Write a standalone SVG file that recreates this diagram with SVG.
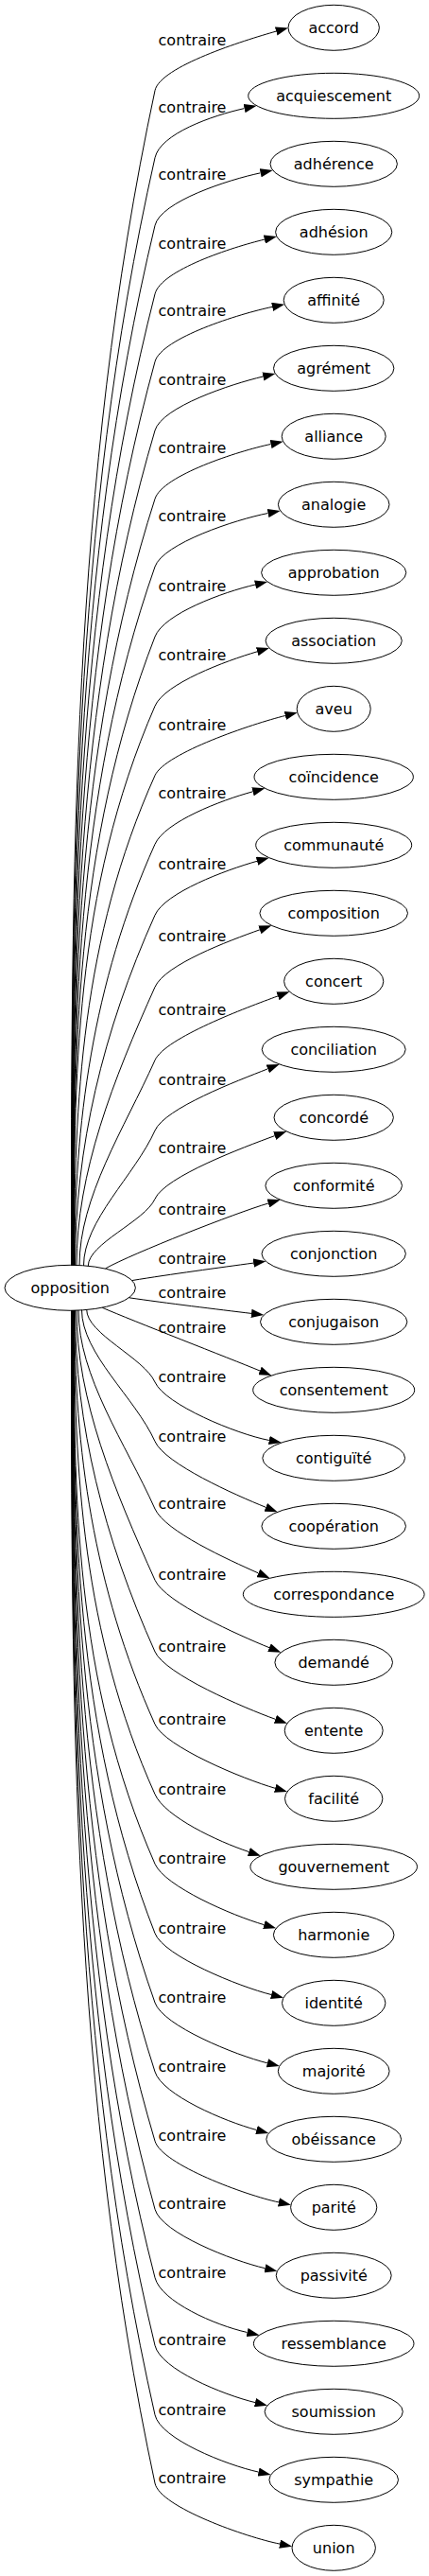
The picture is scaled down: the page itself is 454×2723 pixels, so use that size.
<svg xmlns="http://www.w3.org/2000/svg" width="454" height="2723" viewBox="0 0 454 2723">
<style>
.node ellipse{fill:none;stroke:#000;stroke-width:1}
text{font-family:"DejaVu Sans",sans-serif;font-size:16px;fill:#000;text-anchor:middle}
.edge path{fill:none;stroke:#000;stroke-width:1;marker-end:url(#arr)}
</style>
<defs>
<marker id="arr" markerUnits="userSpaceOnUse" viewBox="0 0 13.3 9.34" markerWidth="13.3" markerHeight="9.34" refX="0" refY="4.67" orient="auto">
<path d="M0,0 L13.3,4.67 L0,9.34 Z" fill="#000"/>
</marker>
</defs>
<rect width="454" height="2723" fill="#fff"/>
<g id="connectors">
<g class="edge"><path d="M75.5,1337.6 C75.5,923.6 75.5,509.7 164,95.7 C169.4,70.3 258.5,42.6 292.2,33.1"/><text x="203.5" y="47.7">contraire</text></g>
<g class="edge"><path d="M75.8,1337.6 C75.8,947.3 75.8,557 164,166.7 C169.7,141.3 224.4,122.2 258.6,114.6"/><text x="203.5" y="118.7">contraire</text></g>
<g class="edge"><path d="M76.1,1337.6 C76.1,971.2 76.1,604.7 164,238.3 C170.1,213 241.5,190 275.7,182.8"/><text x="203.5" y="190.3">contraire</text></g>
<g class="edge"><path d="M76.4,1337.6 C76.4,995.3 76.4,653 164,310.7 C170.4,285.5 245.9,261.3 279.9,253.1"/><text x="203.5" y="262.7">contraire</text></g>
<g class="edge"><path d="M76.7,1337.6 C76.7,1019.2 76.7,700.7 164,382.3 C170.9,357.2 253.8,331.5 288.1,324.4"/><text x="203.5" y="334.3">contraire</text></g>
<g class="edge"><path d="M77,1337.6 C77,1043.4 77,749.2 164,455 C171.4,430.1 244.3,406 278.4,398"/><text x="203.5" y="407">contraire</text></g>
<g class="edge"><path d="M77.3,1337.6 C77.3,1067.5 77.3,797.4 164,527.3 C171.9,502.5 252.4,476.7 286.6,469.5"/><text x="203.5" y="479.3">contraire</text></g>
<g class="edge"><path d="M77.6,1337.6 C77.6,1091.4 77.6,845.2 164,599 C172.6,574.5 249.3,549.2 283.6,542.5"/><text x="203.5" y="551">contraire</text></g>
<g class="edge"><path d="M77.9,1337.6 C77.9,1116.1 77.9,894.5 164,673 C173.4,648.8 236,625.9 270.1,618"/><text x="203.5" y="625">contraire</text></g>
<g class="edge"><path d="M78.2,1337.6 C78.2,1140.5 78.2,943.4 164,746.3 C174.4,722.5 238.6,698.7 272.2,688.8"/><text x="203.5" y="698.3">contraire</text></g>
<g class="edge"><path d="M78.5,1337.6 C78.5,1165 86.3,992.3 164,819.7 C174.7,796 267.8,764.9 301.8,756.5"/><text x="203.5" y="771.7">contraire</text></g>
<g class="edge"><path d="M78.8,1337.6 C78.8,1189.2 97.2,1040.7 164,892.3 C174.7,868.6 233.7,846 267.5,836.8"/><text x="203.5" y="844.3">contraire</text></g>
<g class="edge"><path d="M79.5,1337.6 C79.5,1214.2 108.5,1090.7 164,967.3 C174.7,943.6 238.3,919.8 272,910.3"/><text x="203.5" y="919.3">contraire</text></g>
<g class="edge"><path d="M81,1337.6 C81,1239.5 119.9,1141.4 164,1043.3 C174.7,1019.6 241.9,994.6 274.9,982.8"/><text x="203.5" y="995.3">contraire</text></g>
<g class="edge"><path d="M84,1337.7 C84,1265.4 131.5,1193 164,1120.7 C174.7,1097 261.1,1065 294,1052.9"/><text x="203.5" y="1072.7">contraire</text></g>
<g class="edge"><path d="M88.5,1337.9 C88.5,1290.3 142.6,1242.6 164,1195 C174.7,1171.3 250.8,1142.7 283.3,1129.9"/><text x="203.5" y="1147">contraire</text></g>
<g class="edge"><path d="M93.3,1338.2 C93.3,1314.6 153.4,1290.9 164,1267.3 C174.7,1243.6 257.9,1212.7 290.7,1200.6"/><text x="203.5" y="1219.3">contraire</text></g>
<g class="edge"><path d="M111.7,1340.8 C140,1325 250.3,1281.8 283.9,1272"/><text x="203.5" y="1283.7">contraire</text></g>
<g class="edge"><path d="M140,1353.5 C180,1347 233.5,1339.8 268.2,1335.1"/><text x="203.5" y="1336">contraire</text></g>
<g class="edge"><path d="M136.7,1371.8 C175,1377.4 231.2,1384.2 266,1388.4"/><text x="203.5" y="1371.7">contraire</text></g>
<g class="edge"><path d="M108.3,1382.3 C140,1396 242.6,1435.7 275,1449"/><text x="203.5" y="1409.3">contraire</text></g>
<g class="edge"><path d="M91.7,1384.3 C91.7,1409.9 152.5,1435.4 164,1461 C174.7,1484.7 250.4,1516 284.8,1522.5"/><text x="203.5" y="1461">contraire</text></g>
<g class="edge"><path d="M86.5,1384.6 C86.5,1431 143.1,1477.3 164,1523.7 C174.7,1547.4 248.8,1580.2 281.3,1593.3"/><text x="203.5" y="1523.7">contraire</text></g>
<g class="edge"><path d="M83,1385 C83,1455 132.5,1525 164,1595 C174.7,1618.7 241.4,1648.6 273.4,1662.9"/><text x="203.5" y="1595">contraire</text></g>
<g class="edge"><path d="M81,1385 C81,1480.1 121.2,1575.2 164,1670.3 C174.7,1694 252.6,1728.5 285,1741.7"/><text x="203.5" y="1670.3">contraire</text></g>
<g class="edge"><path d="M79.5,1385 C79.5,1505.3 109.9,1625.7 164,1746 C174.7,1769.7 258.4,1805.5 291.4,1817.3"/><text x="203.5" y="1746">contraire</text></g>
<g class="edge"><path d="M78.8,1385 C78.8,1530.9 98.3,1676.8 164,1822.7 C174.7,1846.4 257.6,1880.7 291.2,1890.3"/><text x="203.5" y="1822.7">contraire</text></g>
<g class="edge"><path d="M78.5,1385 C78.5,1555.6 87.2,1726.1 164,1896.7 C174.7,1920.4 230.1,1946.4 263.3,1957.5"/><text x="203.5" y="1896.7">contraire</text></g>
<g class="edge"><path d="M78.2,1385 C78.2,1580.1 78.2,1775.2 164,1970.3 C174.5,1994.1 245.8,2024.9 279.4,2034.6"/><text x="203.5" y="1970.3">contraire</text></g>
<g class="edge"><path d="M77.9,1385 C77.9,1604.6 77.9,1824.1 164,2043.7 C173.5,2067.9 253.2,2100 287.1,2108.5"/><text x="203.5" y="2043.7">contraire</text></g>
<g class="edge"><path d="M77.6,1385 C77.6,1629 77.6,1873 164,2117 C172.7,2141.5 249,2172.3 282.9,2180.8"/><text x="203.5" y="2117">contraire</text></g>
<g class="edge"><path d="M77.3,1385 C77.3,1653.3 77.3,1921.7 164,2190 C172,2214.7 237.7,2242.4 271.5,2251.5"/><text x="203.5" y="2190">contraire</text></g>
<g class="edge"><path d="M77,1385 C77,1677.8 77,1970.5 164,2263.3 C171.4,2288.2 260.7,2320.7 294.9,2327.9"/><text x="203.5" y="2263.3">contraire</text></g>
<g class="edge"><path d="M76.7,1385 C76.7,1701.8 76.7,2018.5 164,2335.3 C170.9,2360.4 246.3,2389.8 280.4,2397.7"/><text x="203.5" y="2335.3">contraire</text></g>
<g class="edge"><path d="M76.4,1385 C76.4,1725.9 76.4,2066.8 164,2407.7 C170.5,2432.9 227.4,2457.9 261.6,2465.5"/><text x="203.5" y="2407.7">contraire</text></g>
<g class="edge"><path d="M76.1,1385 C76.1,1749.8 76.1,2114.5 164,2479.3 C170.1,2504.6 236,2531.4 270,2539.6"/><text x="203.5" y="2479.3">contraire</text></g>
<g class="edge"><path d="M75.8,1385 C75.8,1774.2 75.8,2163.5 164,2552.7 C169.7,2578.1 239.4,2605.6 273.6,2613.1"/><text x="203.5" y="2552.7">contraire</text></g>
<g class="edge"><path d="M75.5,1385 C75.5,1798.3 75.5,2211.7 164,2625 C169.4,2650.4 261.7,2682.3 296.1,2689.1"/><text x="203.5" y="2625">contraire</text></g>
</g>
<g id="node-opposition" class="node"><ellipse cx="74.2" cy="1361.3" rx="69.2" ry="24"/><text x="74.2" y="1366.9">opposition</text></g>
<g id="node-accord" class="node"><ellipse cx="353.2" cy="29.3" rx="48.2" ry="24"/><text x="353.2" y="34.9">accord</text></g>
<g id="node-acquiescement" class="node"><ellipse cx="353.2" cy="101.3" rx="90.5" ry="24"/><text x="353.2" y="106.9">acquiescement</text></g>
<g id="node-adherence" class="node"><ellipse cx="353.2" cy="173.3" rx="67.2" ry="24"/><text x="353.2" y="178.9">adhérence</text></g>
<g id="node-adhesion" class="node"><ellipse cx="353.2" cy="245.3" rx="61.6" ry="24"/><text x="353.2" y="250.9">adhésion</text></g>
<g id="node-affinite" class="node"><ellipse cx="353.2" cy="317.3" rx="53" ry="24"/><text x="353.2" y="322.9">affinité</text></g>
<g id="node-agrement" class="node"><ellipse cx="353.2" cy="389.3" rx="63.7" ry="24"/><text x="353.2" y="394.9">agrément</text></g>
<g id="node-alliance" class="node"><ellipse cx="353.2" cy="461.3" rx="55" ry="24"/><text x="353.2" y="466.9">alliance</text></g>
<g id="node-analogie" class="node"><ellipse cx="353.2" cy="533.3" rx="58.8" ry="24"/><text x="353.2" y="538.9">analogie</text></g>
<g id="node-approbation" class="node"><ellipse cx="353.2" cy="605.3" rx="76.6" ry="24"/><text x="353.2" y="610.9">approbation</text></g>
<g id="node-association" class="node"><ellipse cx="353.2" cy="677.3" rx="72.1" ry="24"/><text x="353.2" y="682.9">association</text></g>
<g id="node-aveu" class="node"><ellipse cx="353.2" cy="749.3" rx="39" ry="24"/><text x="353.2" y="754.9">aveu</text></g>
<g id="node-coincidence" class="node"><ellipse cx="353.2" cy="821.3" rx="84.2" ry="24"/><text x="353.2" y="826.9">coïncidence</text></g>
<g id="node-communaute" class="node"><ellipse cx="353.2" cy="893.3" rx="82.5" ry="24"/><text x="353.2" y="898.9">communauté</text></g>
<g id="node-composition" class="node"><ellipse cx="353.2" cy="965.3" rx="78.3" ry="24"/><text x="353.2" y="970.9">composition</text></g>
<g id="node-concert" class="node"><ellipse cx="353.2" cy="1037.3" rx="52.6" ry="24"/><text x="353.2" y="1042.9">concert</text></g>
<g id="node-conciliation" class="node"><ellipse cx="353.2" cy="1109.3" rx="76" ry="24"/><text x="353.2" y="1114.9">conciliation</text></g>
<g id="node-concorde" class="node"><ellipse cx="353.2" cy="1181.3" rx="63.2" ry="24"/><text x="353.2" y="1186.9">concordé</text></g>
<g id="node-conformite" class="node"><ellipse cx="353.2" cy="1253.3" rx="72.3" ry="24"/><text x="353.2" y="1258.9">conformité</text></g>
<g id="node-conjonction" class="node"><ellipse cx="353.2" cy="1325.3" rx="76.2" ry="24"/><text x="353.2" y="1330.9">conjonction</text></g>
<g id="node-conjugaison" class="node"><ellipse cx="353.2" cy="1397.3" rx="77.7" ry="24"/><text x="353.2" y="1402.9">conjugaison</text></g>
<g id="node-consentement" class="node"><ellipse cx="353.2" cy="1469.3" rx="85.5" ry="24"/><text x="353.2" y="1474.9">consentement</text></g>
<g id="node-contiguite" class="node"><ellipse cx="353.2" cy="1541.3" rx="75.4" ry="24"/><text x="353.2" y="1546.9">contiguïté</text></g>
<g id="node-cooperation" class="node"><ellipse cx="353.2" cy="1613.3" rx="76.3" ry="24"/><text x="353.2" y="1618.9">coopération</text></g>
<g id="node-correspondance" class="node"><ellipse cx="353.2" cy="1685.3" rx="95.9" ry="24"/><text x="353.2" y="1690.9">correspondance</text></g>
<g id="node-demande" class="node"><ellipse cx="353.2" cy="1757.3" rx="62.3" ry="24"/><text x="353.2" y="1762.9">demandé</text></g>
<g id="node-entente" class="node"><ellipse cx="353.2" cy="1829.3" rx="52" ry="24"/><text x="353.2" y="1834.9">entente</text></g>
<g id="node-facilite" class="node"><ellipse cx="353.2" cy="1901.3" rx="51.7" ry="24"/><text x="353.2" y="1906.9">facilité</text></g>
<g id="node-gouvernement" class="node"><ellipse cx="353.2" cy="1973.3" rx="88.3" ry="24"/><text x="353.2" y="1978.9">gouvernement</text></g>
<g id="node-harmonie" class="node"><ellipse cx="353.2" cy="2045.3" rx="63.8" ry="24"/><text x="353.2" y="2050.9">harmonie</text></g>
<g id="node-identite" class="node"><ellipse cx="353.2" cy="2117.3" rx="54.7" ry="24"/><text x="353.2" y="2122.9">identité</text></g>
<g id="node-majorite" class="node"><ellipse cx="353.2" cy="2189.3" rx="58.9" ry="24"/><text x="353.2" y="2194.9">majorité</text></g>
<g id="node-obeissance" class="node"><ellipse cx="353.2" cy="2261.3" rx="71.4" ry="24"/><text x="353.2" y="2266.9">obéissance</text></g>
<g id="node-parite" class="node"><ellipse cx="353.2" cy="2333.3" rx="45.6" ry="24"/><text x="353.2" y="2338.9">parité</text></g>
<g id="node-passivite" class="node"><ellipse cx="353.2" cy="2405.3" rx="61" ry="24"/><text x="353.2" y="2410.9">passivité</text></g>
<g id="node-ressemblance" class="node"><ellipse cx="353.2" cy="2477.3" rx="84.8" ry="24"/><text x="353.2" y="2482.9">ressemblance</text></g>
<g id="node-soumission" class="node"><ellipse cx="353.2" cy="2549.3" rx="73.1" ry="24"/><text x="353.2" y="2554.9">soumission</text></g>
<g id="node-sympathie" class="node"><ellipse cx="353.2" cy="2621.3" rx="68.3" ry="24"/><text x="353.2" y="2626.9">sympathie</text></g>
<g id="node-union" class="node"><ellipse cx="353.2" cy="2693.3" rx="44.2" ry="24"/><text x="353.2" y="2698.9">union</text></g>
</svg>
